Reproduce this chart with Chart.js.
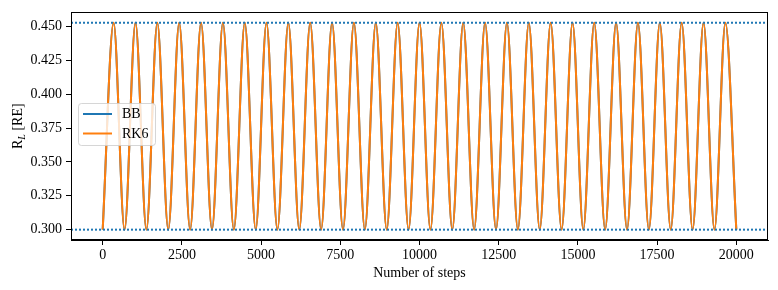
<!DOCTYPE html>
<html>
<head>
<meta charset="utf-8">
<script src="https://cdn.jsdelivr.net/npm/chart.js@4"></script>
<style>
  html, body { margin: 0; padding: 0; background: #fff; }
  #wrap { width: 778px; height: 290px; }
</style>
</head>
<body>
<div id="wrap"><canvas id="rl-chart" width="778" height="290"></canvas></div>
<script>
// turning points of R_L
const stepValues = [
  0, 345, 690, 1035, 1380, 1725, 2070, 2415, 2760, 3105,
  3450, 3795, 4140, 4485, 4830, 5170, 5515, 5860, 6205, 6550,
  6895, 7240, 7585, 7930, 8275, 8620, 8965, 9310, 9655, 10000,
  10345, 10690, 11035, 11380, 11725, 12070, 12415, 12760, 13105, 13450,
  13795, 14140, 14485, 14830, 15170, 15515, 15860, 16205, 16550, 16895,
  17240, 17585, 17930, 18275, 18620, 18965, 19310, 19655, 20000,
];
const bbValues = [
  0.300, 0.4528, 0.300, 0.4528, 0.300, 0.4528, 0.300, 0.4528, 0.300, 0.4528,
  0.300, 0.4528, 0.300, 0.4528, 0.300, 0.4528, 0.300, 0.4528, 0.300, 0.4528,
  0.300, 0.4528, 0.300, 0.4528, 0.300, 0.4528, 0.300, 0.4528, 0.300, 0.4528,
  0.300, 0.4528, 0.300, 0.4528, 0.300, 0.4528, 0.300, 0.4528, 0.300, 0.4528,
  0.300, 0.4528, 0.300, 0.4528, 0.300, 0.4528, 0.300, 0.4528, 0.300, 0.4528,
  0.300, 0.4528, 0.300, 0.4528, 0.300, 0.4528, 0.300, 0.4528, 0.300,
];
const rk6Values = [
  0.300, 0.4528, 0.300, 0.4528, 0.300, 0.4528, 0.300, 0.4528, 0.300, 0.4528,
  0.300, 0.4528, 0.300, 0.4528, 0.300, 0.4528, 0.300, 0.4528, 0.300, 0.4528,
  0.300, 0.4528, 0.300, 0.4528, 0.300, 0.4528, 0.300, 0.4528, 0.300, 0.4528,
  0.300, 0.4528, 0.300, 0.4528, 0.300, 0.4528, 0.300, 0.4528, 0.300, 0.4528,
  0.300, 0.4528, 0.300, 0.4528, 0.300, 0.4528, 0.300, 0.4528, 0.300, 0.4528,
  0.300, 0.4528, 0.300, 0.4528, 0.300, 0.4528, 0.300, 0.4528, 0.300,
];
const lowerBound = 0.300;
const upperBound = 0.4528;

const xTicks = [0, 2500, 5000, 7500, 10000, 12500, 15000, 17500, 20000];
const yTicks = [0.300, 0.325, 0.350, 0.375, 0.400, 0.425, 0.450];
const seriesNames = ['BB', 'RK6'];

const BLUE = '#1f77b4';
const ORANGE = '#ff7f0e';
const FONT = 'Liberation Serif, Times New Roman, serif';
const xMin = -1000, xMax = 21000;
const yMin = 0.29236, yMax = 0.46044;

const toPoints = (vals) => stepValues.map((s, i) => ({ x: s, y: vals[i] }));
const hline = (v) => [{ x: xMin, y: v }, { x: xMax, y: v }];

// frame, axis titles and legend drawn by hand (matplotlib look)
const decorations = {
  id: 'decorations',
  afterDraw(chart) {
    const { ctx, chartArea: a } = chart;
    ctx.save();
    ctx.strokeStyle = '#000';
    ctx.lineWidth = 1;
    ctx.strokeRect(Math.round(a.left) + 0.5, Math.round(a.top) + 0.5,
      Math.round(a.right - a.left) - 1, Math.round(a.bottom - a.top) - 1);

    // x title
    ctx.fillStyle = '#000';
    ctx.font = '14px ' + FONT;
    ctx.textAlign = 'center';
    ctx.textBaseline = 'middle';
    ctx.fillText('Number of steps', (a.left + a.right) / 2, 273);

    // y title: R_L [RE]
    ctx.save();
    ctx.translate(17, (a.top + a.bottom) / 2);
    ctx.rotate(-Math.PI / 2);
    ctx.textAlign = 'left';
    ctx.textBaseline = 'alphabetic';
    ctx.font = '14px ' + FONT;
    const wR = ctx.measureText('R').width;
    const wRest = ctx.measureText(' [RE]').width;
    ctx.font = 'italic 10px ' + FONT;
    const wL = ctx.measureText('L').width;
    let x0 = -(wR + wL + wRest) / 2;
    ctx.font = '14px ' + FONT;
    ctx.fillText('R', x0, 5);
    ctx.font = 'italic 10px ' + FONT;
    ctx.fillText('L', x0 + wR, 8);
    ctx.font = '14px ' + FONT;
    ctx.fillText(' [RE]', x0 + wR + wL, 5);
    ctx.restore();

    // legend box
    const bx = 78.5, by = 103.5, bw = 77, bh = 42, r = 3;
    ctx.beginPath();
    ctx.moveTo(bx + r, by);
    ctx.arcTo(bx + bw, by, bx + bw, by + bh, r);
    ctx.arcTo(bx + bw, by + bh, bx, by + bh, r);
    ctx.arcTo(bx, by + bh, bx, by, r);
    ctx.arcTo(bx, by, bx + bw, by, r);
    ctx.closePath();
    ctx.fillStyle = 'rgba(255,255,255,0.8)';
    ctx.fill();
    ctx.strokeStyle = 'rgba(204,204,204,0.8)';
    ctx.lineWidth = 1;
    ctx.stroke();

    const colors = [BLUE, ORANGE];
    seriesNames.forEach((name, i) => {
      const y = 114 + i * 19.5;
      ctx.strokeStyle = colors[i];
      ctx.lineWidth = 2;
      ctx.beginPath();
      ctx.moveTo(83, y);
      ctx.lineTo(112, y);
      ctx.stroke();
      ctx.fillStyle = '#000';
      ctx.font = '14px ' + FONT;
      ctx.textAlign = 'left';
      ctx.textBaseline = 'middle';
      ctx.fillText(name, 122, y + 0.5);
    });
    ctx.restore();
  },
};

new Chart(document.getElementById('rl-chart'), {
  type: 'line',
  plugins: [decorations],
  data: {
    datasets: [
      {
        label: 'upper',
        data: hline(upperBound),
        borderColor: BLUE,
        borderWidth: 2,
        borderDash: [2, 2],
        pointRadius: 0,
        order: 0,
      },
      {
        label: 'lower',
        data: hline(lowerBound),
        borderColor: BLUE,
        borderWidth: 2,
        borderDash: [2, 2],
        pointRadius: 0,
        order: 0,
      },
      {
        label: seriesNames[1],
        data: toPoints(rk6Values),
        borderColor: ORANGE,
        borderWidth: 2,
        pointRadius: 0,
        cubicInterpolationMode: 'monotone',
        order: 1,
      },
      {
        label: seriesNames[0],
        data: toPoints(bbValues),
        borderColor: BLUE,
        borderWidth: 2,
        pointRadius: 0,
        cubicInterpolationMode: 'monotone',
        order: 2,
      },
    ],
  },
  options: {
    responsive: false,
    animation: false,
    events: [],
    layout: { padding: { top: 9, right: 10, left: 0, bottom: 0 } },
    plugins: {
      legend: { display: false },
      tooltip: { enabled: false },
    },
    scales: {
      x: {
        type: 'linear',
        min: xMin,
        max: xMax,
        afterBuildTicks: (axis) => { axis.ticks = xTicks.map((v) => ({ value: v })); },
        afterFit: (axis) => { axis.height = 50; },
        grid: { drawOnChartArea: false, tickLength: 5, color: '#000' },
        border: { display: true, color: '#000' },
        ticks: {
          color: '#000',
          font: { family: FONT, size: 14 },
          padding: 2,
          maxRotation: 0,
          callback: (v) => String(v),
        },
      },
      y: {
        type: 'linear',
        min: yMin,
        max: yMax,
        afterBuildTicks: (axis) => { axis.ticks = yTicks.map((v) => ({ value: v })); },
        afterFit: (axis) => { axis.width = 71; },
        grid: { drawOnChartArea: false, tickLength: 5, color: '#000' },
        border: { display: true, color: '#000' },
        ticks: {
          color: '#000',
          font: { family: FONT, size: 14 },
          padding: 4,
          callback: (v) => v.toFixed(3),
        },
      },
    },
  },
});
</script>
</body>
</html>
